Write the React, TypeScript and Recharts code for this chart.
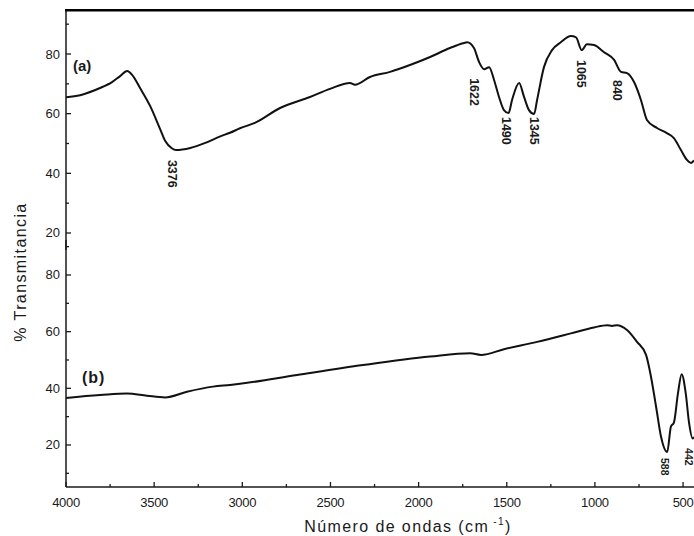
import React from 'react';
import { LineChart, Line, XAxis, YAxis, ReferenceDot } from 'recharts';

// ---- Spectrum (a) ----
const wavenumbersA = [
  4000, 3920, 3807, 3739, 3693, 3653, 3625, 3580, 3523, 3466, 3437, 3400, 3376, 3295, 3210, 3125,
  3070, 3013, 2929, 2786, 2616, 2503, 2389, 2361, 2276, 2162, 2049, 1935, 1822, 1748, 1725, 1686,
  1657, 1628, 1600, 1572, 1544, 1516, 1490, 1470, 1430, 1402, 1374, 1345, 1328, 1289, 1243, 1192,
  1136, 1107, 1075, 1045, 1005, 948, 891, 852, 818, 778, 739, 705, 648, 592, 552, 512, 478, 455, 438,
];
const transmittanceA = [
  65.5, 66.2, 68.6, 70.6, 72.6, 74.3, 73.0, 68.6, 62.6, 54.8, 50.8, 48.4, 47.8, 48.5, 50.2, 52.4,
  53.6, 55.1, 56.9, 61.9, 65.6, 68.3, 70.3, 69.7, 72.3, 74.0, 76.3, 79.0, 82.0, 83.6, 83.9, 82.0,
  77.3, 74.9, 75.6, 71.3, 65.6, 61.2, 60.2, 64.6, 70.3, 65.6, 61.2, 59.9, 64.6, 75.6, 81.3, 84.0,
  86.0, 85.6, 81.3, 83.3, 83.0, 80.6, 78.0, 74.0, 73.6, 70.6, 64.6, 57.9, 55.2, 53.5, 51.8, 47.8,
  44.5, 43.5, 44.3,
];

// ---- Spectrum (b) ----
const wavenumbersB = [
  4000, 3807, 3654, 3541, 3438, 3314, 3166, 3070, 3013, 2690, 2315, 1935, 1708, 1646, 1516, 1328,
  1136, 1005, 931, 903, 875, 818, 761, 710, 682, 653, 625, 590, 569, 552, 529, 508, 485, 466, 446, 438,
];
const transmittanceB = [
  36.6, 37.6, 38.2, 37.4, 36.8, 38.8, 40.6, 41.2, 41.6, 44.7, 48.2, 51.2, 52.4, 51.8, 53.8, 56.4,
  59.4, 61.5, 62.3, 62.0, 62.3, 60.6, 56.4, 51.8, 44.1, 33.5, 22.9, 17.5, 26.5, 27.9, 38.2, 45.0,
  38.3, 27.8, 22.3, 22.8,
];

// ---- Axes ----
const xTicks = [4000, 3750, 3500, 3250, 3000, 2750, 2500, 2250, 2000, 1750, 1500, 1250, 1000, 750, 500];
const xTickLabels = [4000, 3500, 3000, 2500, 2000, 1500, 1000, 500];
const xDomain = [438, 4000];
const yTicksA = [20, 30, 40, 50, 60, 70, 80, 90];
const yTicksB = [10, 20, 30, 40, 50, 60, 70, 80, 90];
const yTickLabels = [20, 40, 60, 80];
const yDomainA = [14.3, 94.75];
const yDomainB = [5.17, 92.35];

// ---- Peak annotations (label text, position in data units of its top end) ----
const peakLabelsA = ['3376', '1622', '1490', '1345', '1065', '840'];
const peakWnA = [3399, 1686, 1504, 1345, 1079, 875];
const peakTA = [44.5, 71.9, 58.9, 58.9, 78.0, 71.3];
const peakLabelsB = ['588', '442'];
const peakWnB = [602, 468];
const peakTB = [15.4, 18.9];

const dataA = wavenumbersA.map((wn, i) => ({ wn, t: transmittanceA[i] }));
const dataB = wavenumbersB.map((wn, i) => ({ wn, t: transmittanceB[i] }));

const FONT = 'Arial, "Liberation Sans", Helvetica, sans-serif';
const INK = '#1a1a1a';

const XTick = (props: any) => {
  const { x, y, payload } = props;
  const major = xTickLabels.includes(payload.value);
  return (
    <g>
      <line x1={x} x2={x} y1={y} y2={y - (major ? 5 : 3)} stroke={INK} strokeWidth={1.3} />
      {major && (
        <text x={x} y={y + 15} textAnchor="middle" dominantBaseline="central" fontSize={13}
          fontFamily={FONT} fill={INK} letterSpacing={-0.3}>
          {payload.value}
        </text>
      )}
    </g>
  );
};

const YTick = (props: any) => {
  const { x, y, payload } = props;
  const major = yTickLabels.includes(payload.value);
  return (
    <g>
      <line x1={x} x2={x + (major ? 5 : 3)} y1={y} y2={y} stroke={INK} strokeWidth={1.3} />
      {major && (
        <text x={x - 6} y={y} textAnchor="end" dominantBaseline="central" fontSize={13}
          fontFamily={FONT} fill={INK}>
          {payload.value}
        </text>
      )}
    </g>
  );
};

const makePeakShape = (text: string, size: number) => (p: any) => (
  <text x={p.cx} y={p.cy} transform={`rotate(90 ${p.cx} ${p.cy})`} textAnchor="start"
    dominantBaseline="central" fontSize={size} fontFamily={FONT} fontWeight="bold" fill={INK}>
    {text}
  </text>
);

export default function App() {
  return (
    <div style={{ position: 'absolute', left: 0, top: 0, width: 694, height: 536, background: '#fff', overflow: 'hidden' }}>
      {/* Panel (a) */}
      <div style={{ position: 'absolute', left: 0, top: 0 }}>
        <LineChart width={694} height={250} data={dataA} margin={{ top: 10, right: 0, bottom: 0, left: 0 }}>
          <XAxis dataKey="wn" type="number" domain={xDomain} reversed hide allowDataOverflow />
          <YAxis type="number" domain={yDomainA} ticks={yTicksA} width={66} tickSize={0} tickMargin={0}
            tickLine={false} axisLine={{ stroke: INK, strokeWidth: 1.5 }} tick={<YTick />} interval={0} allowDataOverflow />
          <Line type="monotone" dataKey="t" stroke="#111" strokeWidth={2} dot={false} isAnimationActive={false} />
          {peakLabelsA.map((lab, i) => (
            <ReferenceDot key={lab} x={peakWnA[i]} y={peakTA[i]} r={0} ifOverflow="visible"
              shape={makePeakShape(lab, 12.5)} />
          ))}
        </LineChart>
      </div>
      {/* Panel (b) */}
      <div style={{ position: 'absolute', left: 0, top: 240 }}>
        <LineChart width={694} height={296} data={dataB} margin={{ top: 0, right: 0, bottom: 0, left: 0 }}>
          <XAxis dataKey="wn" type="number" domain={xDomain} reversed ticks={xTicks} interval={0} height={49}
            tickSize={0} tickMargin={0} tickLine={false} axisLine={{ stroke: INK, strokeWidth: 1.5 }}
            tick={<XTick />} allowDataOverflow />
          <YAxis type="number" domain={yDomainB} ticks={yTicksB} width={66} tickSize={0} tickMargin={0}
            tickLine={false} axisLine={{ stroke: INK, strokeWidth: 1.5 }} tick={<YTick />} interval={0} allowDataOverflow />
          <Line type="monotone" dataKey="t" stroke="#111" strokeWidth={2} dot={false} isAnimationActive={false} />
          {peakLabelsB.map((lab, i) => (
            <ReferenceDot key={lab} x={peakWnB[i]} y={peakTB[i]} r={0} ifOverflow="visible"
              shape={makePeakShape(lab, 10.5)} />
          ))}
        </LineChart>
      </div>
      {/* Frame top edge, titles and panel tags */}
      <svg width={694} height={536} style={{ position: 'absolute', left: 0, top: 0, zIndex: 5, pointerEvents: 'none' }}>
        <rect x={65} y={9} width={629} height={2.5} fill="#000" />
        <text x={73} y={71} fontSize={15} fontWeight="bold" fontFamily={FONT} fill={INK}>(a)</text>
        <text x={82} y={383} fontSize={16} fontWeight="bold" fontFamily={FONT} fill={INK} letterSpacing={1}>(b)</text>
        <text x={20} y={272} transform="rotate(-90 20 272)" textAnchor="middle" dominantBaseline="central"
          fontSize={16} fontFamily={FONT} fill={INK} letterSpacing={1.4}>% Transmitancia</text>
        <text x={408} y={532} textAnchor="middle" fontSize={16} fontFamily={FONT} fill={INK} letterSpacing={1.4}>
          Número de ondas (cm<tspan dy={-7} fontSize={10}> -1</tspan><tspan dy={7}>)</tspan>
        </text>
      </svg>
    </div>
  );
}
